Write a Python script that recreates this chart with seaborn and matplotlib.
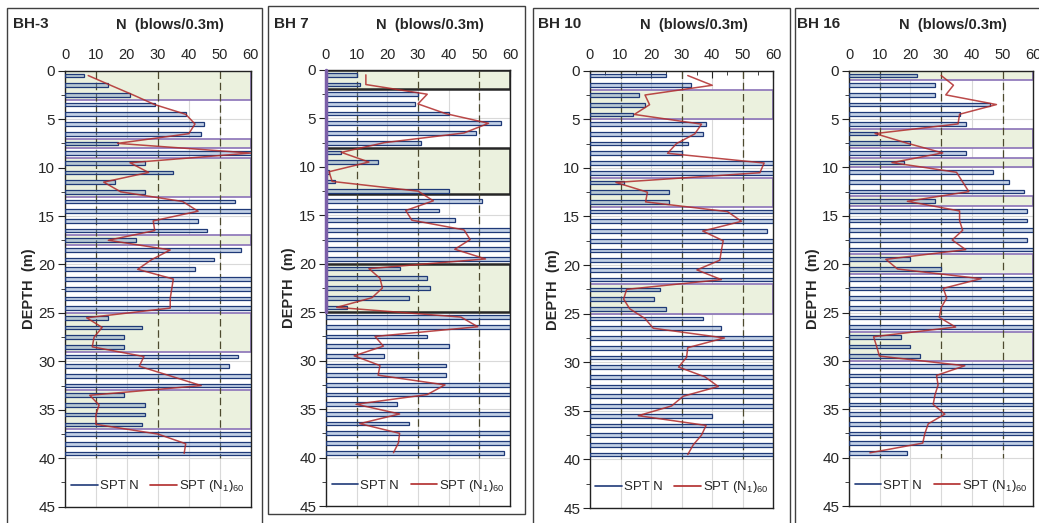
import numpy as np
import matplotlib
matplotlib.use("Agg")
import matplotlib.pyplot as plt
from matplotlib.patches import Rectangle
from matplotlib.lines import Line2D
from matplotlib.ticker import MultipleLocator
import seaborn as sns

# bar centre depths (m), one test per metre
DEPTH = [0.5, 1.5, 2.5, 3.5, 4.5, 5.5, 6.5, 7.5, 8.5, 9.5,
         10.5, 11.5, 12.5, 13.5, 14.5, 15.5, 16.5, 17.5, 18.5, 19.5,
         20.5, 21.5, 22.5, 23.5, 24.5, 25.5, 26.5, 27.5, 28.5, 29.5,
         30.5, 31.5, 32.5, 33.5, 34.5, 35.5, 36.5, 37.5, 38.5, 39.5]

BH3_N = [6, 14, 21, 29, 39, 45, 44, 17, 60, 26,
         35, 16, 26, 55, 60, 43, 46, 23, 57, 48,
         42, 60, 60, 60, 60, 14, 25, 19, 19, 56,
         53, 60, 60, 19, 26, 26, 25, 60, 60, 60]
BH3_N160 = [7.5, 14.7, 22, 29, 39, 42, 40, 17, 60, 21,
            27, 12.5, 18, 38, 43, 28.5, 29, 14, 34, 28,
            23.5, 35, 34.5, 34, 34, 7, 12, 9.4, 8.8, 25.5,
            24, 34, 44, 8, 11, 10, 10, 30, 39, 38.5]
BH3_ZONES = [(0, 3), (7, 8), (9, 13), (17, 18), (25, 29), (33, 37)]

BH7_N = [10, 11, 30, 29, 40, 57, 49, 31, 5, 17,
         1, 3, 40, 51, 37, 42, 60, 60, 60, 60,
         24, 33, 34, 27, 7, 60, 60, 33, 40, 19,
         39, 39, 60, 60, 23, 60, 27, 60, 60, 58]
BH7_N160 = [13, 13, 33, 30, 39, 53, 45, 19, 5, 14,
            1, 2, 30, 35, 26, 28, 45, 47, 42, 52,
            14, 17.6, 18.4, 15, 3.5, 44, 49.5, 16, 18.7, 9.2,
            17.6, 17, 38.8, 33, 9.8, 24, 11, 24, 23.6, 22]
BH7_ZONES = [(0, 2), (8, 12.8), (20, 25)]

BH10_N = [25, 33, 16, 18, 14, 38, 37, 32, 30, 60,
          60, 11, 26, 26, 60, 60, 58, 60, 60, 60,
          60, 60, 23, 21, 25, 37, 43, 60, 60, 60,
          60, 60, 60, 60, 60, 40, 60, 60, 60, 60]
BH10_N160 = [32, 40, 18, 19.5, 14.5, 36.5, 34.3, 28.3, 25.4, 57,
             55.6, 8.5, 18.8, 18.2, 45, 49.6, 36.9, 43.6, 43, 42.5,
             35, 43, 12, 11, 13, 18, 20.7, 44, 32, 31.6,
             29, 37.6, 42, 30.5, 26.7, 15.8, 38, 36.5, 33.8, 32]
BH10_ZONES = [(2, 5), (11, 14), (22, 25)]

BH16_N = [22, 28, 28, 46, 36, 38, 9, 20, 38, 18,
          47, 52, 57, 28, 58, 58, 60, 58, 60, 20,
          30, 60, 60, 60, 60, 60, 60, 17, 20, 23,
          60, 60, 60, 60, 60, 60, 60, 60, 60, 19]
BH16_N160 = [30, 34, 31.5, 48, 36, 35.5, 8.5, 19, 30.5, 14,
             35, 37, 39, 19, 36, 36, 37, 33.6, 38, 12,
             15.8, 43, 30.7, 31.8, 30, 29.4, 34.7, 8, 9, 9.9,
             37.7, 28.5, 29, 28, 27.4, 31.2, 25.8, 24.7, 24, 6.8]
BH16_ZONES = [(0, 1), (6, 8), (9, 10), (13, 14), (19, 21), (27, 30)]

TITLES = ["BH-3", "BH 7", "BH 10", "BH 16"]

sns.set_style("white")
plt.rcParams['font.family'] = ['Liberation Sans', 'DejaVu Sans']
plt.rcParams['mathtext.fontset'] = 'custom'
plt.rcParams['mathtext.rm'] = 'Liberation Sans'

W, H = 1039, 523
fig = plt.figure(figsize=(W / 100, H / 100), dpi=100)

def fx(x):
    return x / W

def fy(y):
    return 1 - y / H

# panel frames (pixels): left, top, right, bottom
frames = [(7, 8, 262, 530), (268, 6, 525, 514), (533, 8, 790, 530), (795, 8, 1045, 530)]
for (l, t, r, b) in frames:
    fig.add_artist(Rectangle((fx(l), fy(b)), fx(r - l), (b - t) / H, transform=fig.transFigure,
                             fill=False, edgecolor="#404040", lw=1.0))

# axes placement (pixels): left x, right x, top y, bottom y
axpos = [(65, 250.7, 70.7, 506.7), (326, 510, 70, 506), (590, 773.3, 70.7, 508), (849, 1033.3, 70.7, 506)]

panels = [(BH3_N, BH3_N160, BH3_ZONES), (BH7_N, BH7_N160, BH7_ZONES),
          (BH10_N, BH10_N160, BH10_ZONES), (BH16_N, BH16_N160, BH16_ZONES)]

for i, ((n, n160, zones), (l, r, t, b)) in enumerate(zip(panels, axpos)):
    ax = fig.add_axes([fx(l), fy(b), fx(r - l), (b - t) / H])

    # liquefiable zones
    for z0, z1 in zones:
        if i == 1:
            ax.add_patch(Rectangle((0, z0), 60, z1 - z0, facecolor="#ebf1de",
                                   edgecolor="#262626", lw=1.8, zorder=1))
        else:
            ax.add_patch(Rectangle((0, z0), 60, z1 - z0, facecolor="#ebf1de",
                                   edgecolor="#8a72b8", lw=1.2, zorder=1))

    sns.barplot(x=n, y=DEPTH, orient="y", native_scale=True, width=0.38,
                errorbar=None, ax=ax, zorder=3)
    for bar in ax.containers[-1]:
        bar.set_facecolor((0.42, 0.55, 0.76, 0.4))
        bar.set_edgecolor("#1f3a78")
        bar.set_linewidth(0.9)

    sns.lineplot(x=n160, y=DEPTH, orient="y", estimator=None, color="#b02a2a",
                 alpha=0.85, lw=1.1, ax=ax, zorder=4)

    ax.vlines([10, 30, 50], 0, 40, colors="#4d4a2e", linestyles=(0, (6, 3)), lw=0.9, zorder=2)

    ax.set_xlim(0, 60)
    ax.set_ylim(45, 0)
    ax.xaxis.tick_top()
    ax.xaxis.set_major_locator(MultipleLocator(10))
    ax.xaxis.set_minor_locator(MultipleLocator(5))
    ax.yaxis.set_major_locator(MultipleLocator(5))
    ax.yaxis.set_minor_locator(MultipleLocator(2.5))
    ax.tick_params(axis="x", which="both", direction="in", top=True, bottom=False,
                   labelsize=10.5, pad=6, length=5, color="#222222")
    ax.tick_params(axis="x", which="minor", length=3)
    ax.tick_params(axis="y", which="both", direction="out", left=True,
                   labelsize=11, pad=2, length=5, color="#222222")
    ax.tick_params(axis="y", which="minor", length=3)
    ax.grid(True, which="major", color="#d9d9d9", lw=0.8, zorder=0)
    ax.set_axisbelow(True)
    ax.set_xlabel("")
    ax.set_ylabel("DEPTH  (m)", fontsize=10.5, fontweight="bold", labelpad=2)
    for s in ax.spines.values():
        s.set_color("#222222")
        s.set_linewidth(1.0)
    if i == 1:
        ax.plot([0, 0], [0, 25], color="#7b5fa8", lw=2.5, clip_on=False, zorder=5)

    handles = [Line2D([], [], color="#1f3a78", lw=1.2),
               Line2D([], [], color="#b02a2a", lw=1.2)]
    ax.legend(handles, ["SPT N", r"SPT $(\mathrm{N}_{1})_{60}$"], loc="center",
              bbox_to_anchor=(0.5, 0.047), ncol=2, frameon=False, fontsize=9.5,
              handlelength=2.0, handletextpad=0.15, columnspacing=0.9)

    fig.text(fx(l - 52), fy(24), TITLES[i], fontsize=11, fontweight="bold", va="center", ha="left")
    fig.text(fx((l + r) / 2 + 12), fy(25), "N  (blows/0.3m)", fontsize=10.5, fontweight="bold",
             va="center", ha="center")

fig.savefig("out.png", dpi=100)
